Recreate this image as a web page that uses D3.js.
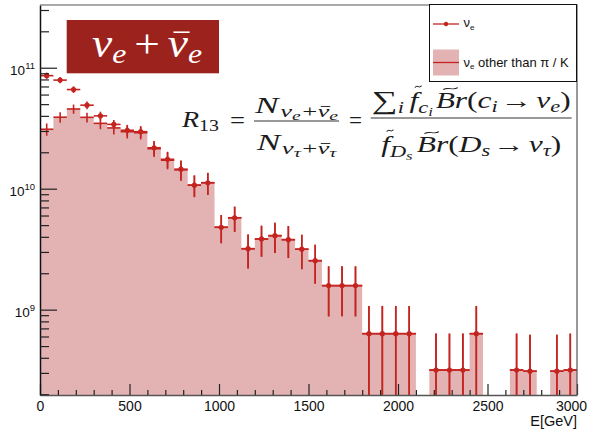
<!DOCTYPE html>
<html><head><meta charset="utf-8">
<script src="https://cdn.jsdelivr.net/npm/d3@7"></script>
<style>html,body{margin:0;padding:0;background:#fff;} svg{display:block;}</style>
</head><body>
<svg id="c" width="595" height="429"></svg>
<script>
// ---------- data ----------
const binLo = [0,75,150,225,300,375,450,525,600,675,750,825,900,975,1050,1125,1200,1275,1350,1425,
               1500,1575,1650,1725,1800,1875,1950,2025,2100,2175,2250,2325,2400,2475,2550,2625,2700,2775,2850,2925];
const binWidth = 75;
// nu_e (all sources) - points with markers
const nuE = [8.6e10,7.9e10,6.6e10,4.9e10,4.0e10,3.4e10,3.04e10,2.96e10,2.18e10,1.75e10,1.45e10,1.07e10,1.12e10,
             4.8e9,5.75e9,3.19e9,3.84e9,4.09e9,3.79e9,3.16e9,2.54e9,1.58e9,1.58e9,1.58e9,
             6.33e8,6.33e8,6.33e8,6.33e8,0,3.17e8,3.17e8,3.17e8,6.33e8,0,0,3.17e8,3.1e8,0,3.1e8,3.17e8];
const nuEErr = [5.1e9,4.7e9,4.2e9,3.6e9,3.3e9,3.0e9,3.3e9,3.3e9,3.0e9,2.7e9,2.6e9,2.1e9,2.3e9,
                1.26e9,1.35e9,1.0e9,1.1e9,1.15e9,1.12e9,1.0e9,0.9e9,0.7e9,0.7e9,0.7e9,
                4.4e8,4.4e8,4.4e8,4.4e8,0,3.17e8,3.17e8,3.17e8,4.4e8,0,0,3.17e8,3.1e8,0,3.1e8,3.17e8];
// nu_e other than pi/K - filled histogram
const nuEOther = [3.1e10,3.9e10,4.56e10,3.89e10,3.47e10,3.18e10,2.96e10,2.9e10,2.14e10,1.72e10,1.43e10,1.07e10,1.12e10,
                  4.8e9,5.75e9,3.19e9,3.84e9,4.09e9,3.79e9,3.16e9,2.54e9,1.58e9,1.58e9,1.58e9,
                  6.33e8,6.33e8,6.33e8,6.33e8,0,3.17e8,3.17e8,3.17e8,6.33e8,0,0,3.17e8,3.1e8,0,3.1e8,3.17e8];
const nuEOtherErr = [3.6e9,3.9e9,4.0e9,3.6e9,3.7e9,3.7e9,3.6e9,3.5e9,3.1e9,2.75e9,2.7e9,2.2e9,2.35e9,
                     1.26e9,1.35e9,1.0e9,1.1e9,1.15e9,1.12e9,1.0e9,0.9e9,0.7e9,0.7e9,0.7e9,
                     4.4e8,4.4e8,4.4e8,4.4e8,0,3.17e8,3.17e8,3.17e8,4.4e8,0,0,3.17e8,3.1e8,0,3.1e8,3.17e8];
const xTickValues = [0,500,1000,1500,2000,2500,3000];
const yMajorExponents = [9,10,11];
const xTitle = "E[GeV]";
const legendLabels = ["", " other than \u03c0 / K"];

// ---------- setup ----------
const svg = d3.select('#c');
const plot = {l:40, r:577, t:5, b:395};
const x = d3.scaleLinear().domain([0,3000]).range([plot.l, plot.r]);
const y = d3.scaleLog().domain([1.97e8, 3.3e11]).range([plot.b, plot.t]);
const FILL='#e3b3b3', RED='#c42420', BOX='#9c221e';
const SANS='"Liberation Sans", Arial, Helvetica, sans-serif';
const SERIF='"Liberation Serif","DejaVu Serif",serif';

svg.append('rect').attr('width',595).attr('height',429).attr('fill','#fff');
svg.append('clipPath').attr('id','clip').append('rect')
  .attr('x',plot.l).attr('y',plot.t).attr('width',plot.r-plot.l).attr('height',plot.b-plot.t);
const gp = svg.append('g').attr('clip-path','url(#clip)');

// filled histogram
const p = d3.path();
binLo.forEach((lo,i)=>{
  const v = nuEOther[i]; if(!(v>0)) return;
  const x0=x(lo), x1=x(lo+binWidth), y0=y(v);
  p.moveTo(x0,y0); p.lineTo(x1,y0); p.lineTo(x1,plot.b); p.lineTo(x0,plot.b); p.closePath();
});
gp.append('path').attr('d',p.toString()).attr('fill',FILL);

function errBars(vals, errs, marker){
  const g = gp.append('g').attr('stroke',RED).attr('stroke-width',1.6).attr('fill','none');
  binLo.forEach((lo,i)=>{
    const v=vals[i]; if(!(v>0)) return;
    const e=errs[i], cx=x(lo+binWidth/2);
    g.append('line').attr('x1',x(lo)).attr('x2',x(lo+binWidth)).attr('y1',y(v)).attr('y2',y(v));
    const low=v-e; const yl = low>y.domain()[0] ? y(low) : plot.b;
    g.append('line').attr('x1',cx).attr('x2',cx).attr('y1',y(v+e)).attr('y2',yl);
  });
  if(marker){
    binLo.forEach((lo,i)=>{
      const v=vals[i]; if(!(v>0)) return;
      gp.append('circle').attr('cx',x(lo+binWidth/2)).attr('cy',y(v)).attr('r',2.6).attr('fill',RED);
    });
  }
}
errBars(nuEOther, nuEOtherErr, false);
errBars(nuE, nuEErr, true);

// ---------- axes ----------
const AX='#222';
const xMinor = d3.range(0,3001,100).filter(v=>!xTickValues.includes(v));
const gx = svg.append('g').attr('transform',`translate(0,${plot.b})`)
  .call(d3.axisBottom(x).tickValues(xTickValues).tickSizeInner(-11).tickSizeOuter(0).tickPadding(6).tickFormat(d3.format('d')));
gx.selectAll('text').attr('font-family',SANS).attr('font-size',14).attr('fill','#111');
gx.selectAll('text').filter(d=>d===3000).attr('dx',-6);
const gxm = svg.append('g').attr('transform',`translate(0,${plot.b})`)
  .call(d3.axisBottom(x).tickValues(xMinor).tickSizeInner(-5).tickSizeOuter(0).tickFormat(''));
gxm.select('.domain').remove();
[gx,gxm].forEach(g=>{g.selectAll('line').attr('stroke',AX).attr('stroke-width',1.2); g.selectAll('.domain').attr('stroke','#555').attr('stroke-width',1.4);});

const yMajor = yMajorExponents.map(e=>Math.pow(10,e));
const yMinor = y.ticks().filter(v=>Math.abs(Math.log10(v)-Math.round(Math.log10(v)))>1e-6);
const gy = svg.append('g').attr('transform',`translate(${plot.l},0)`)
  .call(d3.axisLeft(y).tickValues(yMajor).tickSizeInner(-17).tickSizeOuter(0).tickFormat(''));
const gym = svg.append('g').attr('transform',`translate(${plot.l},0)`)
  .call(d3.axisLeft(y).tickValues(yMinor).tickSizeInner(-9).tickSizeOuter(0).tickFormat(''));
gym.select('.domain').remove();
[gy,gym].forEach(g=>{g.selectAll('line').attr('stroke',AX).attr('stroke-width',1.2); g.selectAll('.domain').attr('stroke','#111').attr('stroke-width',1.5);});
yMajorExponents.forEach(e=>{
  const yy=y(Math.pow(10,e));
  const t=svg.append('text').attr('x',35).attr('y',yy+7.5).attr('text-anchor','end')
    .attr('font-family',SANS).attr('fill','#111');
  t.append('tspan').attr('font-size',13.5).text('10');
  t.append('tspan').attr('font-size',9.5).attr('dy',-6).text(String(e));
});
// frame
svg.append('path').attr('d',`M${plot.l},${plot.t}H${plot.r}V${plot.b}`).attr('fill','none').attr('stroke','#555').attr('stroke-width',1.2);
svg.append('text').attr('x',plot.r).attr('y',426).attr('text-anchor','end').attr('font-family',SANS)
  .attr('font-size',14.5).attr('fill','#111').text(xTitle);

// ---------- legend ----------
const lg = svg.append('g');
lg.append('rect').attr('x',429.5).attr('y',4.5).attr('width',147).attr('height',77).attr('fill','#fff').attr('stroke','#111').attr('stroke-width',1);
lg.append('line').attr('x1',433).attr('x2',459).attr('y1',24).attr('y2',24).attr('stroke',RED).attr('stroke-width',1.3);
lg.append('circle').attr('cx',446).attr('cy',24).attr('r',2.2).attr('fill',RED);
lg.append('rect').attr('x',433).attr('y',49.5).attr('width',26).attr('height',26).attr('fill',FILL);
lg.append('line').attr('x1',433).attr('x2',459).attr('y1',62.5).attr('y2',62.5).attr('stroke',RED).attr('stroke-width',1.3);
[[27,0],[66.5,1]].forEach(([yy,i])=>{
  const t=lg.append('text').attr('x',463.5).attr('y',yy).attr('font-family',SANS).attr('font-size',13).attr('fill','#111');
  t.append('tspan').text('\u03bd');
  t.append('tspan').attr('font-size',8).attr('dy',2.5).text('e');
  t.append('tspan').attr('dy',-2.5).text(legendLabels[i]);
});

// ---------- math text ----------
function mathRow(parent, pieces, color){
  const g=parent.append('g'); let cx=0;
  pieces.forEach(pc=>{
    const fs=pc.fs||22.5; cx+=(pc.k||0);
    const t=g.append('text').attr('x',cx).attr('y',pc.dy||0).attr('font-size',fs)
      .attr('font-family',SERIF).attr('font-style',pc.it?'italic':'normal').attr('fill',color).text(pc.t);
    const w=t.node().getComputedTextLength();
    if(pc.acc==='bar'){
      const yy=(pc.dy||0)-fs*0.62;
      g.append('line').attr('x1',cx+w*0.15+fs*0.06).attr('x2',cx+w*0.95+fs*0.06).attr('y1',yy).attr('y2',yy)
        .attr('stroke',color).attr('stroke-width',Math.max(0.9,fs*0.04));
    } else if(pc.acc==='tilde'){
      const yy=(pc.dy||0)-fs*(pc.ay||0.86);
      const a=cx+w*0.2+fs*0.12, b=cx+w*0.95+fs*0.12;
      g.append('path').attr('d',`M${a},${yy+1} C${a+(b-a)*0.35},${yy-2.5} ${a+(b-a)*0.65},${yy+2.5} ${b},${yy-1}`)
        .attr('fill','none').attr('stroke',color).attr('stroke-width',0.9);
    }
    cx+=w+(pc.a||0);
  });
  return {g,w:cx};
}
function place(row,x0,base,targetW){
  const sx=targetW? targetW/row.w : 1;
  row.g.attr('transform',`translate(${x0},${base}) scale(${sx},1)`);
}
const it=(t,o={})=>Object.assign({t,it:true},o);
const rm=(t,o={})=>Object.assign({t,it:false},o);
function fraction(parent,num,den,cxC,barY,nb,db,color,targetNumW){
  const n=mathRow(parent,num,color), d=mathRow(parent,den,color);
  const sx=targetNumW/n.w;
  const nw=n.w*sx, dw=d.w*sx, Wd=Math.max(nw,dw);
  n.g.attr('transform',`translate(${cxC-nw/2},${nb}) scale(${sx},1)`);
  d.g.attr('transform',`translate(${cxC-dw/2},${db}) scale(${sx},1)`);
  parent.append('line').attr('x1',cxC-Wd/2-1).attr('x2',cxC+Wd/2+1).attr('y1',barY).attr('y2',barY)
    .attr('stroke',color).attr('stroke-width',0.9);
}
const fm=svg.append('g');
const K='#1c1c1c';
const r13=mathRow(fm,[it('R'),rm('13',{fs:16,dy:4})],K); place(r13,182,127,37);
const eq1=mathRow(fm,[rm('=')],K); place(eq1,230,128,15);
fraction(fm,
  [it('N',{a:1}),it('\u03bd',{fs:17,dy:4}),it('e',{fs:12.5,dy:7,a:1}),rm('+',{fs:17,dy:4}),it('\u03bd',{fs:17,dy:4,acc:'bar'}),it('e',{fs:12.5,dy:7})],
  [it('N',{a:1}),it('\u03bd',{fs:17,dy:4}),it('\u03c4',{fs:12.5,dy:7,a:1}),rm('+',{fs:17,dy:4}),it('\u03bd',{fs:17,dy:4,acc:'bar'}),it('\u03c4',{fs:12.5,dy:7})],
  296.5,121,113,150,K,83);
const eq2=mathRow(fm,[rm('=')],K); place(eq2,349,128,13);
fraction(fm,
  [rm('\u2211',{fs:26,dy:1}),it('i',{fs:16,dy:5,a:4}),it('f',{acc:'tilde',ay:0.95}),it('c',{fs:16,dy:5}),it('i',{fs:12,dy:8,a:2}),
   it('B',{acc:'tilde'}),it('r'),rm('('),it('c'),it('i',{fs:16,dy:4,a:2}),rm('\u2192',{a:3}),it('\u03bd'),it('e',{fs:16,dy:4}),rm(')')],
  [it('f',{acc:'tilde',ay:0.95}),it('D',{fs:16,dy:5}),it('s',{fs:12,dy:8,a:3}),
   it('B',{acc:'tilde'}),it('r'),rm('('),it('D'),it('s',{fs:16,dy:4,a:2}),rm('\u2192',{a:3}),it('\u03bd'),it('\u03c4',{fs:16,dy:4}),rm(')')],
  471.2,118,108,152,K,199);

// ---------- title box ----------
svg.append('rect').attr('x',66.7).attr('y',20).attr('width',152.3).attr('height',53.3).attr('fill',BOX);
const tt=mathRow(svg,[it('\u03bd',{fs:40}),it('e',{fs:28,dy:6}),rm('+',{fs:40,k:7,a:7}),it('\u03bd',{fs:40,acc:'bar'}),it('e',{fs:28,dy:6})],'#fff');
place(tt,92,57,110);
</script>
</body></html>
